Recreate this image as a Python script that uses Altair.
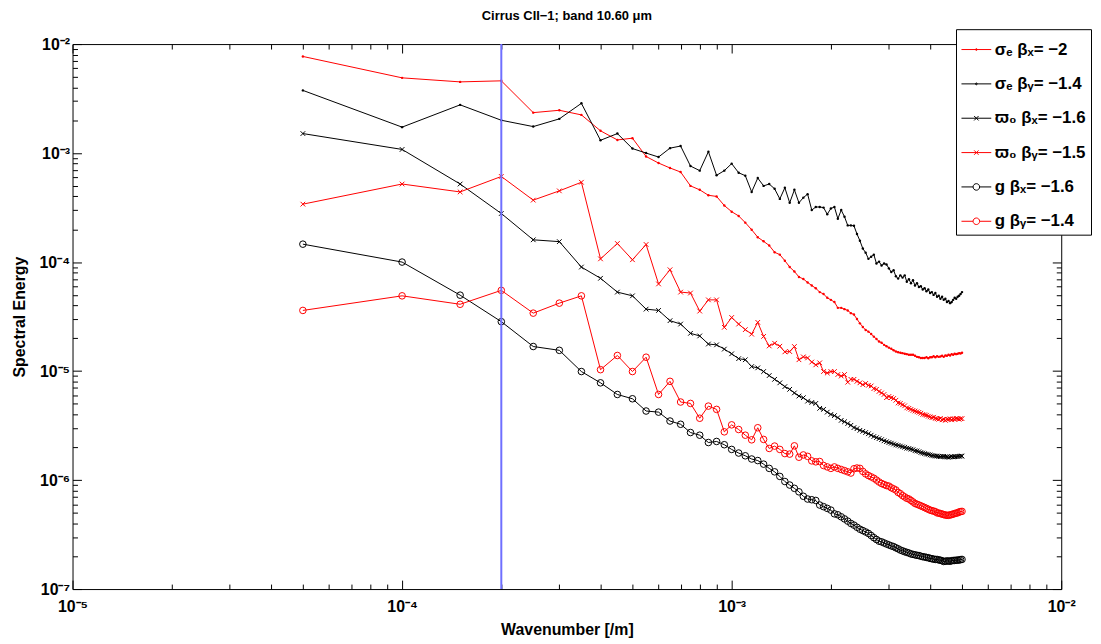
import altair as alt
import pandas as pd

FONT = "Liberation Sans"

# wavenumber grid (sample n * 5e-5 /m, n = 1..100)
wavenumber = [round(5e-5 * n, 8) for n in range(1, 101)]

sigma_e_x = [7.7e-3, 4.9e-3, 4.5e-3, 4.6e-3, 2.35e-3, 2.47e-3, 2.24e-3, 1.6e-3, 1.32e-3, 1.37e-3,
             9.3e-4, 8.1e-4, 7.3e-4, 6.7e-4, 5.0e-4, 4.6e-4, 4.1e-4, 4.0e-4, 3.3e-4, 2.9e-4,
             2.65e-4, 2.3e-4, 1.98e-4, 1.69e-4, 1.55e-4, 1.42e-4, 1.23e-4, 1.17e-4, 1.03e-4, 9.0e-5,
             8.2e-5, 7.3e-5, 7.0e-5, 6.5e-5, 6.1e-5, 5.75e-5, 5.3e-5, 5.1e-5, 4.7e-5, 4.5e-5,
             4.3e-5, 3.8e-5, 3.8e-5, 3.7e-5, 3.6e-5, 3.4e-5, 3.3e-5, 3.0e-5, 2.74e-5, 2.54e-5,
             2.38e-5, 2.3e-5, 2.19e-5, 2.07e-5, 1.97e-5, 1.87e-5, 1.82e-5, 1.74e-5, 1.69e-5, 1.64e-5,
             1.6e-5, 1.55e-5, 1.51e-5, 1.49e-5, 1.47e-5, 1.46e-5, 1.44e-5, 1.43e-5, 1.41e-5, 1.41e-5,
             1.41e-5, 1.38e-5, 1.35e-5, 1.34e-5, 1.32e-5, 1.32e-5, 1.32e-5, 1.34e-5, 1.31e-5, 1.34e-5,
             1.34e-5, 1.37e-5, 1.34e-5, 1.37e-5, 1.35e-5, 1.36e-5, 1.38e-5, 1.35e-5, 1.39e-5, 1.38e-5,
             1.41e-5, 1.39e-5, 1.43e-5, 1.41e-5, 1.44e-5, 1.43e-5, 1.44e-5, 1.46e-5, 1.45e-5, 1.47e-5]

sigma_e_y = [3.76e-3, 1.73e-3, 2.77e-3, 2.0e-3, 1.75e-3, 2.06e-3, 2.86e-3, 1.31e-3, 1.51e-3, 1.10e-3,
             1.0e-3, 9.2e-4, 1.11e-3, 1.16e-3, 7.6e-4, 6.9e-4, 1.03e-3, 6.25e-4, 6.9e-4, 8.0e-4,
             6.6e-4, 6.2e-4, 4.4e-4, 5.9e-4, 5.0e-4, 5.2e-4, 4.7e-4, 3.8e-4, 4.8e-4, 3.5e-4,
             4.6e-4, 3.5e-4, 3.9e-4, 4.2e-4, 3.0e-4, 3.2e-4, 3.2e-4, 3.16e-4, 2.75e-4, 3.1e-4,
             3.2e-4, 2.5e-4, 3.0e-4, 2.6e-4, 2.17e-4, 2.17e-4, 2.15e-4, 1.81e-4, 1.57e-4, 1.33e-4,
             1.22e-4, 1.07e-4, 1.12e-4, 1.17e-4, 9.7e-5, 1.01e-4, 9.3e-5, 9.7e-5, 9.5e-5, 8.75e-5,
             8.1e-5, 8.4e-5, 7.4e-5, 7.05e-5, 7.55e-5, 7.2e-5, 7.55e-5, 6.6e-5, 6.95e-5, 6.4e-5,
             6.8e-5, 6.1e-5, 6.4e-5, 5.9e-5, 6.0e-5, 5.6e-5, 5.75e-5, 5.4e-5, 5.6e-5, 5.2e-5,
             5.3e-5, 5.0e-5, 5.2e-5, 4.8e-5, 4.9e-5, 4.6e-5, 4.8e-5, 4.5e-5, 4.6e-5, 4.3e-5,
             4.4e-5, 4.2e-5, 4.3e-5, 4.5e-5, 4.7e-5, 4.6e-5, 4.8e-5, 4.9e-5, 5.1e-5, 5.3e-5]

omega_x = [1.51e-3, 1.08e-3, 5.2e-4, 2.79e-4, 1.6e-4, 1.54e-4, 9.0e-5, 7.1e-5, 5.3e-5, 4.9e-5,
           3.7e-5, 3.6e-5, 2.9e-5, 2.7e-5, 2.22e-5, 2.1e-5, 1.77e-5, 1.74e-5, 1.59e-5, 1.44e-5,
           1.30e-5, 1.27e-5, 1.10e-5, 1.07e-5, 9.9e-6, 9.1e-6, 8.4e-6, 7.8e-6, 7.2e-6, 6.8e-6,
           6.3e-6, 5.9e-6, 5.7e-6, 5.3e-6, 5.15e-6, 5.05e-6, 4.55e-6, 4.45e-6, 4.2e-6, 4.0e-6,
           3.9e-6, 3.74e-6, 3.53e-6, 3.43e-6, 3.3e-6, 3.18e-6, 3.03e-6, 2.96e-6, 2.86e-6, 2.8e-6,
           2.73e-6, 2.66e-6, 2.58e-6, 2.51e-6, 2.45e-6, 2.4e-6, 2.35e-6, 2.29e-6, 2.25e-6, 2.21e-6,
           2.18e-6, 2.14e-6, 2.1e-6, 2.08e-6, 2.05e-6, 2.02e-6, 2.0e-6, 1.96e-6, 1.95e-6, 1.92e-6,
           1.9e-6, 1.86e-6, 1.85e-6, 1.82e-6, 1.79e-6, 1.77e-6, 1.75e-6, 1.73e-6, 1.72e-6, 1.70e-6,
           1.68e-6, 1.67e-6, 1.66e-6, 1.66e-6, 1.65e-6, 1.64e-6, 1.65e-6, 1.65e-6, 1.63e-6, 1.63e-6,
           1.62e-6, 1.63e-6, 1.64e-6, 1.63e-6, 1.64e-6, 1.64e-6, 1.65e-6, 1.65e-6, 1.66e-6, 1.66e-6]

omega_y = [3.4e-4, 5.2e-4, 4.4e-4, 6.1e-4, 3.7e-4, 4.5e-4, 5.4e-4, 1.07e-4, 1.48e-4, 1.05e-4,
           1.45e-4, 6.3e-5, 8.5e-5, 5.3e-5, 5.2e-5, 3.55e-5, 4.5e-5, 4.5e-5, 2.52e-5, 3.1e-5,
           2.7e-5, 2.4e-5, 2.18e-5, 2.8e-5, 2.08e-5, 1.7e-5, 1.8e-5, 1.69e-5, 1.5e-5, 1.51e-5,
           1.68e-5, 1.27e-5, 1.35e-5, 1.32e-5, 1.21e-5, 1.14e-5, 1.19e-5, 9.9e-6, 9.6e-6, 9.9e-6,
           9.9e-6, 9.3e-6, 9.0e-6, 9.3e-6, 7.9e-6, 8.4e-6, 8.4e-6, 8.05e-6, 7.8e-6, 7.5e-6,
           7.7e-6, 7.4e-6, 7.3e-6, 6.9e-6, 6.8e-6, 6.5e-6, 6.3e-6, 6.1e-6, 5.7e-6, 5.85e-6,
           5.7e-6, 5.6e-6, 5.4e-6, 5.1e-6, 5.05e-6, 4.9e-6, 4.8e-6, 4.6e-6, 4.55e-6, 4.45e-6,
           4.36e-6, 4.3e-6, 4.23e-6, 4.18e-6, 4.1e-6, 4.0e-6, 3.97e-6, 3.93e-6, 3.85e-6, 3.8e-6,
           3.74e-6, 3.77e-6, 3.68e-6, 3.65e-6, 3.61e-6, 3.68e-6, 3.57e-6, 3.61e-6, 3.53e-6, 3.61e-6,
           3.61e-6, 3.65e-6, 3.57e-6, 3.65e-6, 3.61e-6, 3.68e-6, 3.65e-6, 3.61e-6, 3.66e-6, 3.66e-6]

g_x = [1.46e-4, 1.0e-4, 4.97e-5, 2.84e-5, 1.68e-5, 1.55e-5, 9.9e-6, 7.8e-6, 6.1e-6, 5.57e-6,
       4.3e-6, 4.2e-6, 3.48e-6, 3.25e-6, 2.73e-6, 2.58e-6, 2.21e-6, 2.26e-6, 2.11e-6, 1.91e-6,
       1.77e-6, 1.67e-6, 1.56e-6, 1.51e-6, 1.40e-6, 1.28e-6, 1.19e-6, 1.08e-6, 9.7e-7, 9.0e-7,
       8.4e-7, 7.8e-7, 7.1e-7, 6.7e-7, 6.6e-7, 6.5e-7, 5.9e-7, 5.7e-7, 5.5e-7, 5.3e-7,
       4.9e-7, 4.8e-7, 4.6e-7, 4.4e-7, 4.2e-7, 4.0e-7, 3.86e-7, 3.69e-7, 3.54e-7, 3.44e-7,
       3.34e-7, 3.24e-7, 3.1e-7, 2.96e-7, 2.85e-7, 2.75e-7, 2.71e-7, 2.65e-7, 2.59e-7, 2.54e-7,
       2.49e-7, 2.45e-7, 2.39e-7, 2.34e-7, 2.28e-7, 2.24e-7, 2.2e-7, 2.17e-7, 2.14e-7, 2.1e-7,
       2.08e-7, 2.06e-7, 2.04e-7, 2.03e-7, 2.0e-7, 1.98e-7, 1.97e-7, 1.95e-7, 1.94e-7, 1.91e-7,
       1.9e-7, 1.88e-7, 1.87e-7, 1.87e-7, 1.85e-7, 1.84e-7, 1.82e-7, 1.79e-7, 1.8e-7, 1.81e-7,
       1.81e-7, 1.8e-7, 1.82e-7, 1.83e-7, 1.83e-7, 1.84e-7, 1.84e-7, 1.85e-7, 1.86e-7, 1.87e-7]

g_y = [3.6e-5, 4.9e-5, 4.1e-5, 5.5e-5, 3.4e-5, 4.2e-5, 4.9e-5, 1.03e-5, 1.39e-5, 9.9e-6,
       1.34e-5, 6.1e-6, 8.05e-6, 5.2e-6, 5.05e-6, 3.69e-6, 4.77e-6, 4.45e-6, 2.77e-6, 3.21e-6,
       2.91e-6, 2.58e-6, 2.34e-6, 3.02e-6, 2.36e-6, 1.95e-6, 2.05e-6, 1.91e-6, 1.75e-6, 1.73e-6,
       2.06e-6, 1.62e-6, 1.70e-6, 1.65e-6, 1.50e-6, 1.47e-6, 1.48e-6, 1.36e-6, 1.32e-6, 1.28e-6,
       1.32e-6, 1.28e-6, 1.25e-6, 1.22e-6, 1.19e-6, 1.16e-6, 1.27e-6, 1.29e-6, 1.28e-6, 1.2e-6,
       1.14e-6, 1.10e-6, 1.07e-6, 1.04e-6, 1.0e-6, 9.6e-7, 9.3e-7, 9.1e-7, 8.9e-7, 8.8e-7,
       8.5e-7, 8.3e-7, 8.1e-7, 7.7e-7, 7.5e-7, 7.2e-7, 7.0e-7, 6.8e-7, 6.7e-7, 6.5e-7,
       6.3e-7, 6.1e-7, 6.0e-7, 5.9e-7, 5.8e-7, 5.7e-7, 5.6e-7, 5.5e-7, 5.4e-7, 5.3e-7,
       5.24e-7, 5.19e-7, 5.13e-7, 5.0e-7, 4.98e-7, 4.92e-7, 4.88e-7, 4.82e-7, 4.78e-7, 4.75e-7,
       4.75e-7, 4.79e-7, 4.82e-7, 4.88e-7, 4.92e-7, 4.98e-7, 5.0e-7, 5.1e-7, 5.13e-7, 5.16e-7]

series_labels = ["σₑ βₓ= −2", "σₑ βᵧ= −1.4", "ϖ₀ βₓ= −1.6",
                 "ϖ₀ βᵧ= −1.5", "g βₓ= −1.6", "g βᵧ= −1.4"]
series_values = [sigma_e_x, sigma_e_y, omega_x, omega_y, g_x, g_y]
series_colors = ["#ff0000", "#000000", "#000000", "#ff0000", "#000000", "#ff0000"]
series_markers = ["dot", "dot", "x", "x", "o", "o"]

vline_k = [2e-4]

x_major = [1e-5, 1e-4, 1e-3, 1e-2]
x_minor = [m * 10.0 ** e for e in (-5, -4, -3) for m in range(2, 10)]
y_major = [1e-7, 1e-6, 1e-5, 1e-4, 1e-3, 1e-2]
y_minor = [m * 10.0 ** e for e in (-7, -6, -5, -4, -3) for m in range(2, 10)]

W, H = 996, 549

rows = []
for lab, vals in zip(series_labels, series_values):
    for k, v in zip(wavenumber, vals):
        rows.append({"k": k, "E": v, "series": lab})
df = pd.DataFrame(rows)

xs = alt.Scale(type="log", domain=[1e-5, 1e-2], nice=False)
ys = alt.Scale(type="log", domain=[1e-7, 1e-2], nice=False)

SUP = "['⁰','¹','²','³','⁴','⁵','⁶','⁷','⁸','⁹']"
label_expr = "'10⁻' + " + SUP + "[round(-log(datum.value) / LN10)]"


def tick_axis(orient, offset, values, size):
    return alt.Axis(orient=orient, offset=offset, values=values, tickSize=size,
                    tickWidth=1, tickColor="black", labels=False, domain=False,
                    grid=False, title=None)


x_axes = [
    alt.Axis(orient="bottom", values=x_major, ticks=False, domain=False, grid=False,
             labelExpr=label_expr, labelFont=FONT, labelFontSize=16, labelFontWeight="bold",
             labelColor="black", labelPadding=10, labelFlush=False, labelOverlap=False,
             title="Wavenumber [/m]", titleFont=FONT, titleFontSize=16,
             titleFontWeight="bold", titleColor="black", titleY=46,
             titleBaseline="alphabetic"),
    tick_axis("top", -H, x_major, 9),
    tick_axis("top", -H, x_minor, 5),
    tick_axis("bottom", -H, x_major, 9),
    tick_axis("bottom", -H, x_minor, 5),
]
y_axes = [
    alt.Axis(orient="left", values=y_major, ticks=False, domain=False, grid=False,
             labelExpr=label_expr, labelFont=FONT, labelFontSize=16, labelFontWeight="bold",
             labelColor="black", labelPadding=3, labelFlush=False, labelOverlap=False,
             title="Spectral Energy", titleFont=FONT, titleFontSize=16,
             titleFontWeight="bold", titleColor="black", titleX=-48, titleY=H / 2,
             titleAngle=270, titleAlign="center", titleBaseline="alphabetic"),
    tick_axis("right", -W, y_major, 9),
    tick_axis("right", -W, y_minor, 5),
    tick_axis("left", -W, y_major, 9),
    tick_axis("left", -W, y_minor, 5),
]

layers = []
for i, (lab, col) in enumerate(zip(series_labels, series_colors)):
    xa = x_axes[i] if i < len(x_axes) else None
    ya = y_axes[i] if i < len(y_axes) else None
    layers.append(
        alt.Chart(df).transform_filter(alt.datum.series == lab)
        .mark_line(color=col, strokeWidth=1)
        .encode(x=alt.X("k:Q", scale=xs, axis=xa), y=alt.Y("E:Q", scale=ys, axis=ya))
    )

XPATH = "M-1,-1L1,1M-1,1L1,-1"
for lab, col, mk in zip(series_labels, series_colors, series_markers):
    base = alt.Chart(df).transform_filter(alt.datum.series == lab)
    if mk == "dot":
        m = base.mark_point(shape="circle", filled=True, size=6, color=col, opacity=1,
                            strokeWidth=0)
    elif mk == "x":
        m = base.mark_point(shape=XPATH, filled=False, size=22, color=col, opacity=1,
                            strokeWidth=1)
    else:
        m = base.mark_point(shape="circle", filled=False, size=44, color=col, opacity=1,
                            strokeWidth=1)
    layers.append(m.encode(x=alt.X("k:Q", scale=xs, axis=None),
                           y=alt.Y("E:Q", scale=ys, axis=None)))

layers.append(
    alt.Chart(pd.DataFrame({"k": vline_k})).mark_rule(color="#6f6fff", strokeWidth=2)
    .encode(x=alt.X("k:Q", scale=xs, axis=None))
)

# legend-only layer
sym = {
    "dot": "M-1,0H1M0.06,0A0.06,0.06 0 1,1 -0.06,0A0.06,0.06 0 1,1 0.06,0",
    "x": "M-1,0H1M-0.15,-0.15L0.15,0.15M-0.15,0.15L0.15,-0.15",
    "o": "M-1,0H-0.22M0.22,0H1M0.22,0A0.22,0.22 0 1,1 -0.22,0A0.22,0.22 0 1,1 0.22,0",
}
legend_symbols = [sym[m] for m in series_markers]
leg = alt.Legend(title=None, orient="none", legendX=890, legendY=-15, fillColor="white",
                 strokeColor="black", padding=5, symbolSize=900, symbolStrokeWidth=1,
                 symbolOpacity=1, labelFont=FONT, labelFontSize=17, labelFontWeight="bold",
                 labelColor="black", labelOffset=3, rowPadding=10.6, labelLimit=0)
leg_df = df[df["k"] == wavenumber[0]]
layers.append(
    alt.Chart(leg_df).mark_point(filled=False, opacity=0, strokeWidth=1)
    .encode(
        x=alt.X("k:Q", scale=xs, axis=None),
        y=alt.Y("E:Q", scale=ys, axis=None),
        color=alt.Color("series:N", scale=alt.Scale(domain=series_labels, range=series_colors),
                        legend=leg),
        shape=alt.Shape("series:N", scale=alt.Scale(domain=series_labels, range=legend_symbols),
                        legend=leg),
    )
)

chart = (
    alt.layer(*layers)
    .resolve_axis(x="independent", y="independent")
    .properties(
        width=W, height=H,
        title=alt.TitleParams("Cirrus CII−1; band 10.60 μm", font=FONT, fontSize=13,
                              fontWeight="bold", color="black", anchor="middle",
                              frame="group", offset=0, dy=4, baseline="alphabetic"),
        padding={"left": 65, "top": 34, "right": 32, "bottom": 53},
        autosize=alt.AutoSizeParams(type="none"),
        background="white",
    )
    .configure_view(stroke="black", strokeWidth=1)
)

chart.save("out.html", embed_options={"renderer": "svg", "actions": False})
